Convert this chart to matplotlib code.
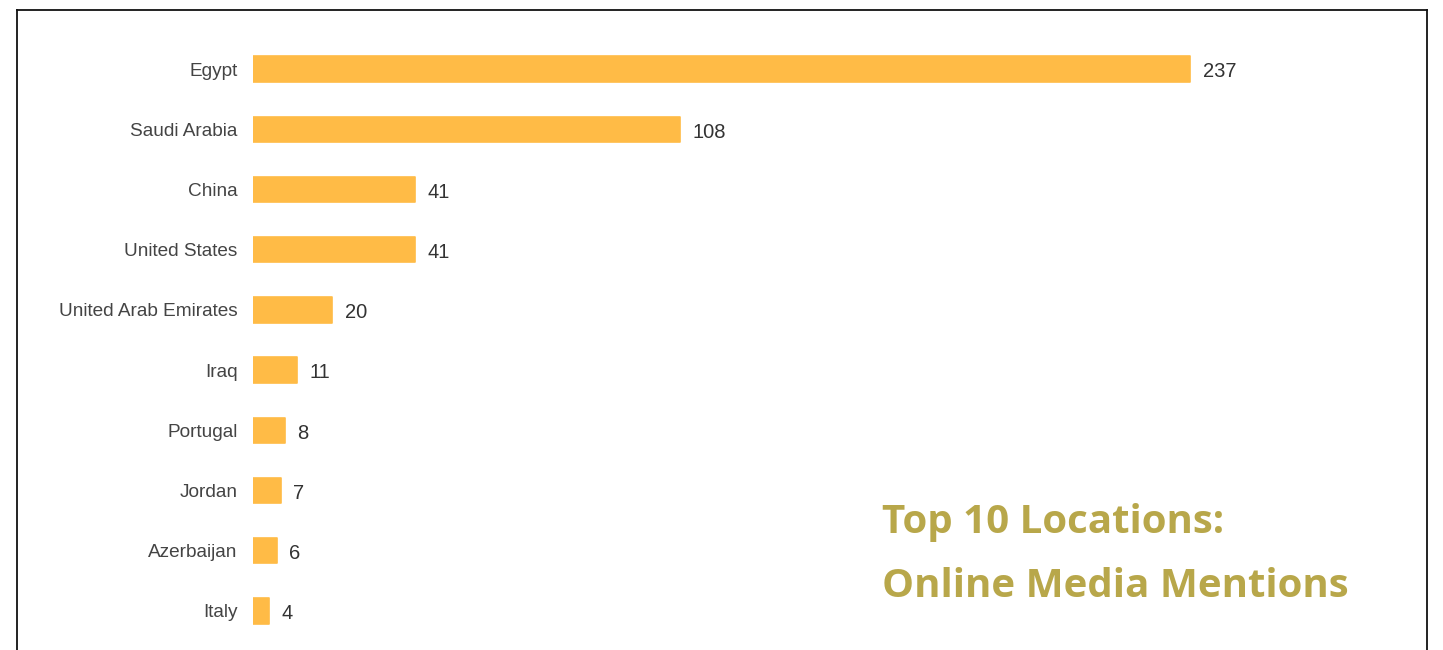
import matplotlib.pyplot as plt
from matplotlib.lines import Line2D

# ── Data ──────────────────────────────────────────────────────────────────
locations = ["Egypt", "Saudi Arabia", "China", "United States", "United Arab Emirates",
             "Iraq", "Portugal", "Jordan", "Azerbaijan", "Italy"]
mentions = [237, 108, 41, 41, 20, 11, 8, 7, 6, 4]

BAR_COLOR = "#FFBB46"
TITLE_COLOR = "#B8A74A"

W, H = 1443, 650
fig = plt.figure(figsize=(W / 100, H / 100), dpi=100)
fig.patch.set_facecolor("white")

# axes placed in pixel terms: x=0 at 252px, ~3.96 px per unit
left, right = 253, 253 + 250 * 3.955
top, bottom = 39, 641
ax = fig.add_axes([left / W, (H - bottom) / H, (right - left) / W, (bottom - top) / H])
ax.set_xlim(0, 250)

y = list(range(len(locations)))
bars = ax.barh(y, mentions, height=0.42, color=BAR_COLOR, edgecolor=BAR_COLOR,
               linewidth=1.2, joinstyle="round")
ax.set_ylim(len(locations) - 0.5, -0.5)

for bar, val in zip(bars, mentions):
    ax.annotate(f"{val}", xy=(bar.get_width(), bar.get_y() + bar.get_height() / 2),
                xytext=(9, -2), textcoords="offset points", ha="left", va="center",
                fontsize=14.5, color="#333333", family="Liberation Sans")

ax.set_yticks(y)
ax.set_yticklabels(locations, fontsize=13.7, color="#444444", family="Liberation Sans")
ax.tick_params(axis="y", length=0, pad=11)
ax.set_xticks([])
for s in ax.spines.values():
    s.set_visible(False)
ax.patch.set_alpha(0)

# frame around the chart (open at the bottom)
fx0, fx1, fy = 17 / W, 1427 / W, 1 - 10 / H
for xs, ys in [([fx0, fx0], [0, fy]), ([fx0, fx1], [fy, fy]), ([fx1, fx1], [fy, 0])]:
    fig.add_artist(Line2D(xs, ys, color="#111111", linewidth=1.3, transform=fig.transFigure))

# title block
fig.text(882 / W, 1 - 533 / H, "Top 10 Locations:", fontsize=29, fontweight="bold",
         color=TITLE_COLOR, family="Open Sans", ha="left", va="baseline")
fig.text(882 / W, 1 - 597 / H, "Online Media Mentions", fontsize=29, fontweight="bold",
         color=TITLE_COLOR, family="Open Sans", ha="left", va="baseline")

fig.savefig("out.png", dpi=100)
